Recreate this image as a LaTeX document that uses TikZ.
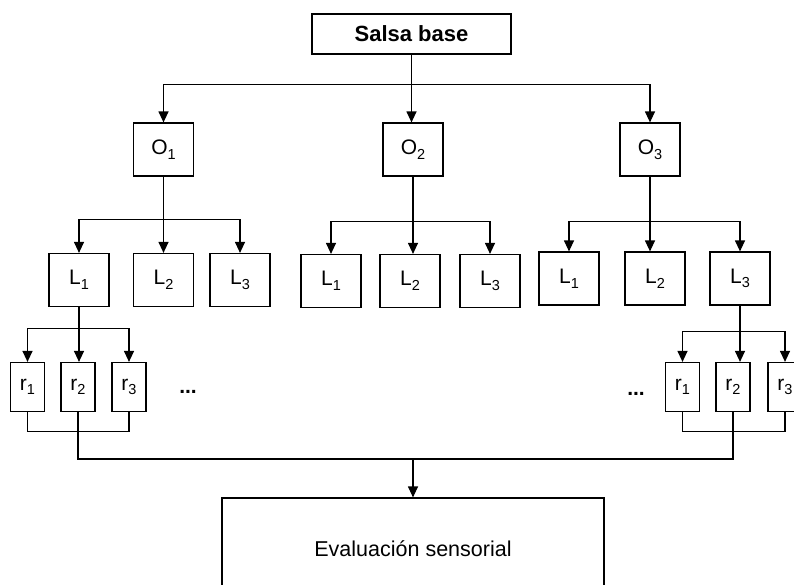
\documentclass[tikz,border=0pt]{standalone}
\usepackage{fontspec}
\setmainfont{Liberation Sans}
\usetikzlibrary{arrows.meta}
\newcommand{\idx}[1]{\raisebox{-0.22em}{\fontsize{14.5}{14.5}\selectfont #1}}

\tikzset{
  box/.style={draw,line width=1.2pt,inner sep=0pt,font=\fontsize{21}{21}\selectfont},
  obox/.style={box,minimum width=60pt,minimum height=53pt},
  lbox/.style={box,minimum width=60pt,minimum height=53pt},
  rbox/.style={box,minimum width=34pt,minimum height=49pt},
  wire/.style={line width=1.2pt},
  arr/.style={wire,-{Triangle[length=11pt,width=10pt]}},
}

\begin{document}
\begin{tikzpicture}[x=1pt,y=-1pt]
  \useasboundingbox (0,0) rectangle (794,584);
  \clip (0,0) rectangle (794,584);

  % top
  \node[box,minimum width=199pt,minimum height=40pt,font=\fontsize{22}{22}\selectfont\bfseries] (salsa) at (411.5,34) {Salsa base};

  % O level
  \node[obox] (O1) at (163.5,149.5) {O\idx{1}};
  \node[obox] (O2) at (413,149.5) {O\idx{2}};
  \node[obox] (O3) at (650,149.5) {O\idx{3}};

  % L level
  \foreach \n/\x in {1/79,2/163.5,3/240} \node[lbox] (a\n) at (\x,280) {L\idx{\n}};
  \foreach \n/\x in {1/331,2/410,3/490} \node[lbox] (b\n) at (\x,281) {L\idx{\n}};
  \foreach \n/\x in {1/569,2/655,3/740} \node[lbox] (c\n) at (\x,278.5) {L\idx{\n}};

  % r level
  \foreach \n/\x in {1/27.5,2/78,3/129} \node[rbox] (lr\n) at (\x,387) {r\idx{\n}};
  \foreach \n/\x in {1/682.5,2/733,3/785} \node[rbox] (rr\n) at (\x,387) {r\idx{\n}};
  \node[font=\fontsize{21}{21}\selectfont\bfseries] (dotsL) at (188,392) {...};
  \node[font=\fontsize{21}{21}\selectfont\bfseries] (dotsR) at (636,394) {...};

  % bottom
  \node[box,minimum width=382pt,minimum height=102pt,font=\fontsize{21.5}{21.5}\selectfont] (eval) at (413,549) {Evaluación sensorial};

  % salsa -> O
  \path (salsa.south) ++(0,30) coordinate (busS);
  \draw[arr] (salsa.south) -- (salsa.south |- O2.north);
  \draw[arr] (busS) -| (O1.north);
  \draw[arr] (busS) -| (O3.north);

  % O -> L
  \path (O1.south) ++(0,43) coordinate (busA);
  \path (O2.south) ++(0,45) coordinate (busB);
  \path (O3.south) ++(0,45) coordinate (busC);
  \draw[arr] (O1.south) -- (O1.south |- a2.north);
  \draw[arr] (busA) -| (a1.north);
  \draw[arr] (busA) -| (a3.north);
  \draw[arr] (O2.south) -- (O2.south |- b2.north);
  \draw[arr] (busB) -| (b1.north);
  \draw[arr] (busB) -| (b3.north);
  \draw[arr] (O3.south) -- (O3.south |- c2.north);
  \draw[arr] (busC) -| (c1.north);
  \draw[arr] (busC) -| (c3.north);

  % L -> r
  \path (a1.south) ++(0,21) coordinate (busL);
  \path (c3.south) ++(0,26) coordinate (busR);
  \draw[arr] (a1.south) -- (a1.south |- lr2.north);
  \draw[arr] (busL) -| (lr1.north);
  \draw[arr] (busL) -| (lr3.north);
  \draw[arr] (c3.south) -- (c3.south |- rr2.north);
  \draw[arr] (busR) -| (rr1.north);
  \draw[arr] (busR) -| (rr3.north);

  % r -> evaluation
  \draw[wire] (lr1.south) -- ++(0,19) -| (lr3.south);
  \draw[wire] (rr1.south) -- ++(0,19) -| (rr3.south);
  \coordinate (join) at (413,459);
  \draw[wire] (lr2.south) |- (join) -| (rr2.south);
  \draw[arr] (join) -- (eval.north);
\end{tikzpicture}
\end{document}
